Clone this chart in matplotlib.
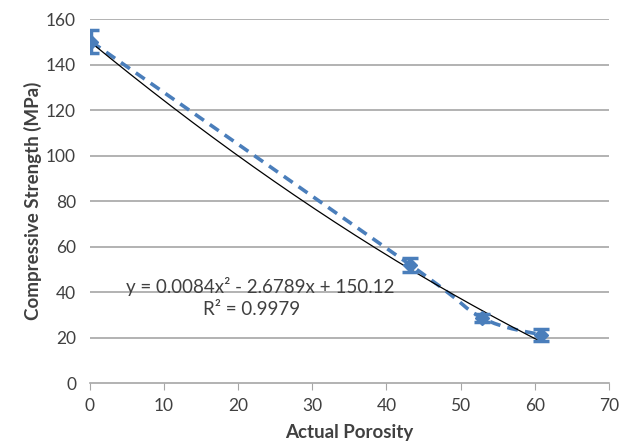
import numpy as np
import matplotlib.pyplot as plt
from matplotlib.path import Path
from matplotlib.patches import PathPatch

porosity = [0.2, 43.2, 52.9, 60.9]
strength = [150.0, 52.0, 28.7, 21.2]
err = [5.0, 3.2, 1.8, 2.5]
coef = [0.0084, -2.6789, 150.12]

blue = '#4a7ebb'
txt = '#404040'
plt.rcParams['font.family'] = ['Lato', 'DejaVu Sans']

fig = plt.figure(figsize=(6.2, 4.44), dpi=100)
ax = fig.add_axes([0.145, 0.137, 0.837, 0.820])

# horizontal gridlines
for v in range(20, 161, 20):
    ax.axhline(v, color='#a6a6a6', lw=1.2, zorder=0)

# smoothed dashed line (Excel-style bezier)
pts = np.column_stack([porosity, strength])
verts = [pts[0]]
codes = [Path.MOVETO]
n = len(pts)
for i in range(n - 1):
    p0 = pts[i - 1] if i > 0 else pts[i]
    p1 = pts[i]
    p2 = pts[i + 1]
    p3 = pts[i + 2] if i + 2 < n else pts[i + 1]
    c1 = p1 + (p2 - p0) / 6
    c2 = p2 - (p3 - p1) / 6
    verts += [c1, c2, p2]
    codes += [Path.CURVE4] * 3
ax.add_patch(PathPatch(Path(verts, codes), fill=False, edgecolor=blue,
                       lw=2.6, ls=(0, (3, 2)), zorder=3))

# polynomial trendline
xt = np.linspace(0, porosity[-1], 200)
ax.plot(xt, np.polyval(coef, xt), color='black', lw=0.9, zorder=4)

ax.errorbar(porosity, strength, yerr=err, fmt='D', color=blue, ms=7,
            capsize=5.5, capthick=2.5, elinewidth=2.5, zorder=5)

ax.set_xlim(0, 70)
ax.set_ylim(0, 160)
ax.set_xticks(range(0, 71, 10))
ax.set_yticks(range(0, 161, 20))
for s in ['top', 'right', 'left']:
    ax.spines[s].set_visible(False)
ax.spines['bottom'].set_color('#a6a6a6')
ax.spines['bottom'].set_linewidth(1.2)
ax.tick_params(axis='x', direction='out', length=5, color='#a6a6a6',
               labelsize=12.5, pad=6, labelcolor=txt)
ax.tick_params(axis='y', length=0, labelsize=12.5, pad=10, labelcolor=txt)

ax.set_xlabel('Actual Porosity', fontsize=13.5, fontweight='bold', color=txt,
              labelpad=7)
ax.set_ylabel('Compressive Strength (MPa)', fontsize=13.5, fontweight='bold',
              color=txt, labelpad=3)

ax.text(23, 42.5, 'y = 0.0084x² - 2.6789x + 150.12', fontsize=13.5,
        ha='center', va='center', color=txt)
ax.text(21.8, 32.3, 'R² = 0.9979', fontsize=13.5, ha='center', va='center',
        color=txt)

plt.savefig('out.png', dpi=100)
